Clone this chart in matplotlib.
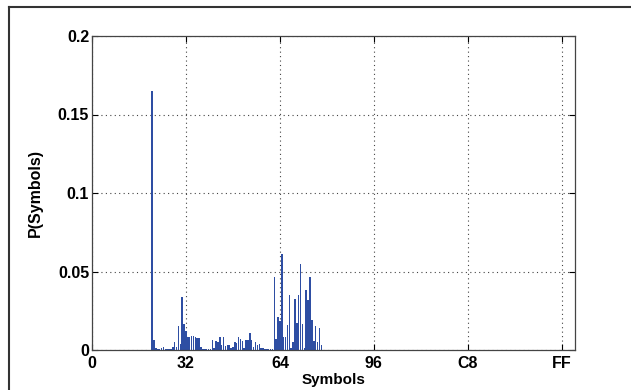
import matplotlib
matplotlib.use("Agg")
import matplotlib.pyplot as plt
from matplotlib.lines import Line2D
import numpy as np

plt.rcParams['font.family'] = ['Liberation Sans', 'DejaVu Sans']

# Symbol codes (ASCII 32..122) and their probabilities
symbols = list(range(32, 123))
probs = [
    0.165, 0.0064, 0.001, 0.0008, 0.0008, 0.001, 0.0017, 0.0006, 0.0005, 0.0005,   # 32-41
    0.0006, 0.002, 0.005, 0.002, 0.015, 0.004, 0.034, 0.0165, 0.012, 0.008,        # 42-51
    0.0083, 0.009, 0.009, 0.008, 0.0078, 0.0076, 0.002, 0.0008, 0.0005, 0.0008,    # 52-61
    0.0005, 0.0006, 0.0064, 0.001, 0.006, 0.005, 0.0085, 0.003, 0.0085, 0.0025,    # 62-71
    0.003, 0.003, 0.0015, 0.002, 0.005, 0.0045, 0.0085, 0.007, 0.006, 0.001,       # 72-81
    0.0064, 0.0064, 0.011, 0.0064, 0.002, 0.005, 0.003, 0.004, 0.001, 0.001,       # 82-91
    0.0005, 0.0008, 0.0005, 0.0005, 0.0005,                                        # 92-96
    0.0467, 0.007, 0.021, 0.0185, 0.061, 0.0083, 0.0083, 0.016, 0.035, 0.001,      # 97-106 a-j
    0.005, 0.0325, 0.017, 0.035, 0.0548, 0.0164, 0.001, 0.038, 0.0316, 0.0465,     # 107-116 k-t
    0.019, 0.0057, 0.0155, 0.005, 0.0138, 0.003,                                   # 117-122 u-z
]

xtick_pos = [0, 50, 100, 150, 200, 250]
xtick_labels = ['0', '32', '64', '96', 'C8', 'FF']
ytick_pos = [0, 0.05, 0.1, 0.15, 0.2]
ytick_labels = ['0', '0.05', '0.1', '0.15', '0.2']

W, H = 631, 390
fig = plt.figure(figsize=(W / 100, H / 100), dpi=100)
fig.patch.set_facecolor('white')

# Figure frame (top and left edges visible)
fig.add_artist(Line2D([9 / W, 1.0], [1 - 7 / H, 1 - 7 / H], color='#333333', lw=1.5,
                      transform=fig.transFigure))
fig.add_artist(Line2D([9 / W, 9 / W], [0, 1 - 7 / H], color='#333333', lw=1.5,
                      transform=fig.transFigure))

left, right, top, bottom = 92, 575, 36, 350
ax = fig.add_axes([left / W, 1 - bottom / H, (right - left) / W, (bottom - top) / H])

ax.bar(symbols, probs, width=0.8, color='#2E4EA3', edgecolor='none', linewidth=0)

ax.set_xlim(0, 257)
ax.set_ylim(0, 0.2)
ax.set_xticks(xtick_pos)
ax.set_xticklabels(xtick_labels, fontsize=11.5, fontweight='bold')
ax.set_yticks(ytick_pos)
ax.set_yticklabels(ytick_labels, fontsize=11.5, fontweight='bold')
ax.tick_params(axis='x', pad=4)
ax.tick_params(axis='y', pad=2)
ax.tick_params(direction='in', top=True, right=True, length=4, width=0.8,
               colors='black')
ax.grid(True, linestyle=(0, (1, 3)), color='#444444', linewidth=0.8)
ax.set_axisbelow(True)
for s in ax.spines.values():
    s.set_color('#444444')
    s.set_linewidth(0.9)

ax.set_xlabel('Symbols', fontsize=11, fontweight='bold', labelpad=2)
ax.set_ylabel('P(Symbols)', fontsize=11.5, fontweight='bold', labelpad=11)

fig.savefig('out.png', dpi=100, facecolor='white')
